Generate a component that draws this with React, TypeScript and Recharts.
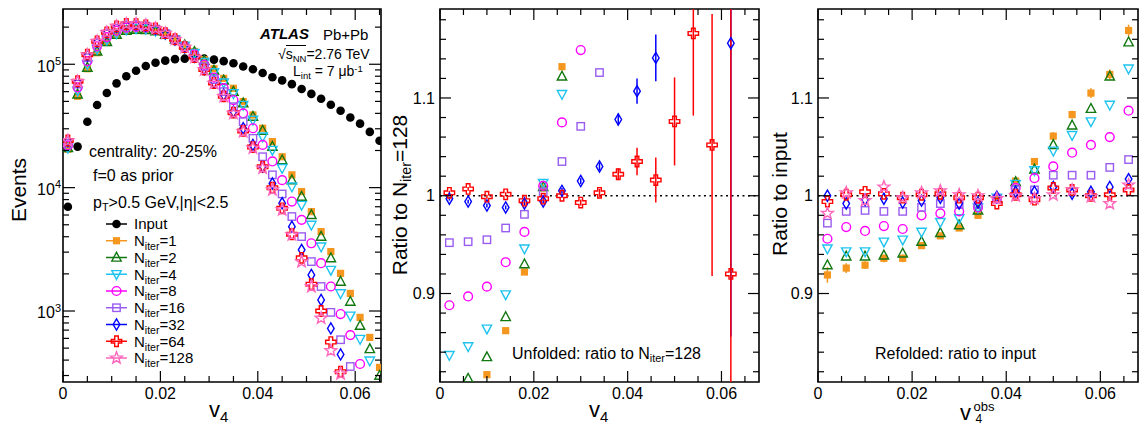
import React from 'react';
import { ScatterChart, Scatter, XAxis, YAxis, ReferenceLine, ReferenceArea, ErrorBar, Legend } from 'recharts';

const FONT = '"Liberation Sans", Arial, Helvetica, sans-serif';

// v4 bin centres, left panel (bin width 0.002)
const leftV = [
  0.001, 0.003, 0.005, 0.007, 0.009, 0.011, 0.013, 0.015, 0.017, 0.019, 0.021,
  0.023, 0.025, 0.027, 0.029, 0.031, 0.033, 0.035, 0.037, 0.039, 0.041, 0.043,
  0.045, 0.047, 0.049, 0.051, 0.053, 0.055, 0.057, 0.059, 0.061, 0.063, 0.065,
];
// v4 bin centres, ratio panels (bin width 0.004)
const ratioV = [
  0.002, 0.006, 0.01, 0.014, 0.018, 0.022, 0.026, 0.03, 0.034, 0.038, 0.042,
  0.046, 0.05, 0.054, 0.058, 0.062, 0.066,
];

// left panel: events
const inputCounts = [
  7000, 21500, 34200, 46800, 58500, 70000, 80000, 88600, 96800, 103000, 107000,
  110000, 111000, 112000, 111000, 109000, 106000, 102000, 96000, 91000, 85000, 78500,
  74000, 69000, 63000, 57500, 52500, 47000, 42000, 37000, 33000, 28300, 24000,
];
const unfN1 = [
  20500, 55000, 92000, 124000, 150000, 172000, 186000, 190000, 190000, 185000, 175000,
  160000, 144000, 127000, 109000, 92000, 76900, 63900, 49800, 38800, 30300, 23600,
  17800, 12700, 9290, 6390, 4400, 3030, 2020, 1390, 888, 611, 349,
];
const unfN2 = [
  21000, 57000, 94000, 127000, 152000, 174000, 187000, 191000, 190000, 185000, 174000,
  159000, 143000, 126000, 107000, 89000, 74000, 60000, 48300, 37600, 29000, 21500,
  16700, 11500, 8460, 6010, 4010, 2680, 1730, 1190, 760, 492, 299,
];
const unfN4 = [
  21000, 61000, 100000, 133000, 158000, 178000, 191000, 195000, 194000, 187000, 176000,
  159000, 141000, 123000, 104000, 86000, 71000, 58200, 46800, 35400, 25900, 20200,
  14400, 10200, 7240, 4990, 3330, 2150, 1390, 916, 593, 396, null,
];
const unfN8 = [
  22000, 65000, 106000, 140000, 166000, 187000, 198000, 201000, 199000, 190000, 176000,
  158000, 139000, 120000, 99000, 78000, 64000, 51300, 40000, 30300, 22200, 16300,
  11500, 7710, 5480, 3540, 2440, 1580, 945, 638, 372, null, null,
];
const unfN16 = [
  23000, 69000, 113000, 148000, 176000, 196000, 206000, 207000, 204000, 193000, 178000,
  159000, 138000, 117000, 95000, 75000, 60000, 45300, 34300, 25100, 17800, 12700,
  8890, 5830, 4010, 2515, 1580, 975, 585, 355, null, null, null,
];
const unfN32 = [
  23900, 72000, 118000, 152000, 180000, 201000, 211000, 211000, 206000, 194000, 178000,
  159000, 137000, 115000, 91000, 71500, 56500, 41300, 30300, 22200, 14800, 10800,
  7470, 4830, 3130, 1960, 1230, 723, 445, null, null, null, null,
];
const unfN64 = [
  24100, 72800, 119500, 153500, 181500, 203000, 212000, 211500, 207000, 195500, 178500,
  159500, 137500, 114500, 90500, 70500, 55000, 40500, 28800, 21300, 14800, 10000,
  6800, 4190, 2700, 1650, 1000, 560, 322, null, null, null, null,
];
const unfN128 = [
  24000, 72500, 119000, 153000, 181000, 203000, 212000, 212000, 207000, 195000, 178000,
  159000, 137000, 114000, 90000, 70000, 54700, 40000, 28400, 20900, 14400, 9600,
  6600, 4140, 2510, 1580, 875, 477, 310, null, null, null, null,
];

// middle panel: unfolded ratio to N_iter=128
const midN1 = [null, null, 0.817, 0.862, 0.922, 1.008, 1.132, null, null, null, null, null, null, null, null, null];
const midN2 = [null, 0.813, 0.835, 0.876, 0.93, 1.009, 1.122, null, null, null, null, null, null, null, null, null];
const midN4 = [0.837, 0.846, 0.864, 0.899, 0.946, 1.013, 1.104, null, null, null, null, null, null, null, null, null];
const midN8 = [0.888, 0.897, 0.907, 0.932, 0.963, 1.01, 1.075, 1.149, null, null, null, null, null, null, null, null];
const midN16 = [0.952, 0.953, 0.955, 0.967, 0.981, 1.004, 1.035, 1.071, 1.126, null, null, null, null, null, null, null];
const midN32 = [0.997, 0.994, 0.99, 0.988, 0.992, 0.994, 1.005, 1.015, 1.03, 1.078, 1.107, 1.141, null, null, null, 1.156];
const midN32Err = [0.002, 0.002, 0.002, 0.002, 0.002, 0.002, 0.003, 0.003, 0.004, 0.006, 0.013, 0.024, 0, 0, 0, 0.3];
const midN64 = [1.003, 1.007, 0.999, 1.0015, 0.995, 0.997, 1.0, 0.993, 1.003, 1.022, 1.035, 1.016, 1.076, 1.166, 1.052, 0.92];
const midN64Err = [0.002, 0.002, 0.002, 0.002, 0.002, 0.002, 0.002, 0.003, 0.004, 0.006, 0.014, 0.023, 0.045, 0.084, 0.134, 0.4];

// right panel: refolded ratio to input
const refN1 = [0.919, 0.926, 0.929, 0.936, 0.936, 0.949, 0.959, 0.967, 0.98, 0.996, 1.015, 1.035, 1.061, 1.083, 1.105, 1.124, 1.169];
const refN1Err = [0.008, 0.005, 0.004, 0.004, 0.004, 0.003, 0.003, 0.003, 0.003, 0.003, 0.003, 0.003, 0.004, 0.004, 0.005, 0.005, 0.006];
const refN2 = [0.929, 0.938, 0.938, 0.939, 0.941, 0.953, 0.962, 0.97, 0.985, 0.997, 1.014, 1.027, 1.052, 1.072, 1.089, 1.122, 1.157];
const refN4 = [0.946, 0.943, 0.943, 0.953, 0.955, 0.963, 0.973, 0.977, 0.988, 0.998, 1.012, 1.026, 1.046, 1.062, 1.076, 1.093, 1.13];
const refN8 = [0.956, 0.968, 0.964, 0.969, 0.966, 0.98, 0.982, 0.984, 0.988, 0.997, 1.008, 1.018, 1.03, 1.044, 1.052, 1.06, 1.087];
const refN16 = [0.972, 0.984, 0.985, 0.984, 0.984, 0.988, 0.992, 0.991, 0.991, 0.997, 1.006, 1.006, 1.021, 1.021, 1.021, 1.029, 1.037];
const refN32 = [1.0, 0.992, 0.996, 0.997, 0.993, 0.995, 0.998, 0.992, 0.993, 0.999, 1.004, 1.004, 1.009, 1.002, 1.004, 1.009, 1.017];
const refN64 = [0.994, 1.001, 1.004, 1.002, 0.998, 1.001, 1.002, 0.998, 0.998, 0.992, 1.001, 0.996, 1.008, 1.006, 1.0, 1.001, 1.006];
const refN128 = [0.982, 1.003, 0.995, 1.009, 0.998, 1.003, 1.005, 1.001, 1.0, 0.997, 1.0, 0.997, 1.001, 1.006, 0.999, 0.992, 1.011];

// ticks
const xTicks = [0, 0.005, 0.01, 0.015, 0.02, 0.025, 0.03, 0.035, 0.04, 0.045, 0.05, 0.055, 0.06, 0.065];
const ratioTicks = [
  0.82, 0.84, 0.86, 0.88, 0.9, 0.92, 0.94, 0.96, 0.98, 1.0, 1.02, 1.04, 1.06, 1.08, 1.1,
  1.12, 1.14, 1.16, 1.18,
];
const logTicks = [
  300, 400, 500, 600, 700, 800, 900, 1000, 2000, 3000, 4000, 5000, 6000, 7000, 8000, 9000,
  10000, 20000, 30000, 40000, 50000, 60000, 70000, 80000, 90000, 100000, 200000,
];

const LEFT_X = [0, 0.0653];
const LEFT_Y = [265.8, 280500];
const RATIO_X = [0, 0.068];
const RATIO_Y = [0.8095, 1.191];

type Kind = 'dot' | 'fsquare' | 'otri' | 'otridown' | 'ocircle' | 'osquare' | 'odiamond' | 'ocross' | 'ostar';

const SERIES: { n: string; color: string; kind: Kind; left: (number | null)[]; mid: (number | null)[]; ref: (number | null)[] }[] = [
  { n: '1', color: '#f5961f', kind: 'fsquare', left: unfN1, mid: midN1, ref: refN1 },
  { n: '2', color: '#117711', kind: 'otri', left: unfN2, mid: midN2, ref: refN2 },
  { n: '4', color: '#1ec3f0', kind: 'otridown', left: unfN4, mid: midN4, ref: refN4 },
  { n: '8', color: '#ff00ff', kind: 'ocircle', left: unfN8, mid: midN8, ref: refN8 },
  { n: '16', color: '#9a5cf0', kind: 'osquare', left: unfN16, mid: midN16, ref: refN16 },
  { n: '32', color: '#0000ff', kind: 'odiamond', left: unfN32, mid: midN32, ref: refN32 },
  { n: '64', color: '#ff0000', kind: 'ocross', left: unfN64, mid: midN64, ref: refN64 },
  { n: '128', color: '#ff66bb', kind: 'ostar', left: unfN128, mid: [], ref: refN128 },
];

const pts = (xs: number[], ys: (number | null)[]) =>
  ys.map((y, i) => ({ x: xs[i], y })).filter((p) => p.y != null);

// error bars cut at the frame, like the ROOT canvas does
const ptsErr = (xs: number[], ys: (number | null)[], es: number[]) =>
  ys
    .map((y, i) => ({
      x: xs[i],
      y,
      e: y == null ? [0, 0] : [Math.min(es[i], y - RATIO_Y[0]), Math.min(es[i], RATIO_Y[1] - y)],
    }))
    .filter((p) => p.y != null);

function starPoints(cx: number, cy: number, R: number, r: number) {
  const out: string[] = [];
  for (let i = 0; i < 10; i++) {
    const a = -Math.PI / 2 + (i * Math.PI) / 5;
    const rad = i % 2 === 0 ? R : r;
    out.push(`${cx + rad * Math.cos(a)},${cy + rad * Math.sin(a)}`);
  }
  return out.join(' ');
}

const Marker = ({ kind, cx, cy, color }: { kind: Kind; cx: number; cy: number; color: string }) => {
  const sw = 1.4;
  switch (kind) {
    case 'dot':
      return <circle cx={cx} cy={cy} r={4.3} fill={color} />;
    case 'fsquare':
      return <rect x={cx - 3.6} y={cy - 3.6} width={7.2} height={7.2} fill={color} />;
    case 'otri':
      return <polygon points={`${cx},${cy - 5.2} ${cx - 4.7},${cy + 3.6} ${cx + 4.7},${cy + 3.6}`} fill="none" stroke={color} strokeWidth={sw} />;
    case 'otridown':
      return <polygon points={`${cx},${cy + 5.2} ${cx - 4.7},${cy - 3.6} ${cx + 4.7},${cy - 3.6}`} fill="none" stroke={color} strokeWidth={sw} />;
    case 'ocircle':
      return <circle cx={cx} cy={cy} r={4.4} fill="none" stroke={color} strokeWidth={sw} />;
    case 'osquare':
      return <rect x={cx - 3.7} y={cy - 3.7} width={7.4} height={7.4} fill="none" stroke={color} strokeWidth={sw} />;
    case 'odiamond':
      return <polygon points={`${cx},${cy - 5.6} ${cx + 3.3},${cy} ${cx},${cy + 5.6} ${cx - 3.3},${cy}`} fill="none" stroke={color} strokeWidth={sw} />;
    case 'ocross': {
      const a = 5.2;
      const t = 1.8;
      const d = `M${cx - t},${cy - a} H${cx + t} V${cy - t} H${cx + a} V${cy + t} H${cx + t} V${cy + a} H${cx - t} V${cy + t} H${cx - a} V${cy - t} H${cx - t} Z`;
      return <path d={d} fill="none" stroke={color} strokeWidth={sw} />;
    }
    case 'ostar':
      return <polygon points={starPoints(cx, cy, 6.2, 2.6)} fill="none" stroke={color} strokeWidth={sw} />;
  }
  return null;
};

const shapeOf = (kind: Kind, color: string) => (p: any) => <Marker kind={kind} cx={p.cx} cy={p.cy} color={color} />;

const isMajorX = (v: number) => Math.abs(v / 0.02 - Math.round(v / 0.02)) < 1e-6;

const XTick = (props: any) => {
  const { x, y, payload, top } = props;
  const v = payload.value as number;
  const major = isMajorX(v);
  const len = major ? 11 : 6;
  return (
    <g>
      <line x1={x} x2={x} y1={y} y2={y - len} stroke="#000" strokeWidth={1.2} />
      <line x1={x} x2={x} y1={top} y2={top + len} stroke="#000" strokeWidth={1.2} />
      {major && (
        <text x={x} y={y + 16.5} textAnchor="middle" fontSize={16} fontFamily={FONT} fill="#000">
          {v === 0 ? '0' : v.toFixed(2)}
        </text>
      )}
    </g>
  );
};

const RatioTick = (props: any) => {
  const { x, y, payload, right } = props;
  const v = payload.value as number;
  const major = Math.abs(v * 10 - Math.round(v * 10)) < 1e-6;
  const len = major ? 11 : 6;
  return (
    <g>
      <line x1={x} x2={x + len} y1={y} y2={y} stroke="#000" strokeWidth={1.2} />
      <line x1={right} x2={right - len} y1={y} y2={y} stroke="#000" strokeWidth={1.2} />
      {major && (
        <text x={x - 5} y={y + 5.7} textAnchor="end" fontSize={16} fontFamily={FONT} fill="#000">
          {Math.abs(v - 1) < 1e-6 ? '1' : v.toFixed(1)}
        </text>
      )}
    </g>
  );
};

const LogTick = (props: any) => {
  const { x, y, payload, right } = props;
  const v = payload.value as number;
  const e = Math.log10(v);
  const major = Math.abs(e - Math.round(e)) < 1e-6;
  const len = major ? 12 : 6;
  return (
    <g>
      <line x1={x} x2={x + len} y1={y} y2={y} stroke="#000" strokeWidth={1.2} />
      <line x1={right} x2={right - len} y1={y} y2={y} stroke="#000" strokeWidth={1.2} />
      {major && (
        <text x={x - 2} y={y + 7.4} textAnchor="end" fontSize={16} fontFamily={FONT} fill="#000">
          10
          <tspan dy={-6.8} fontSize={11}>
            {Math.round(e)}
          </tspan>
        </text>
      )}
    </g>
  );
};

const LegendBox = () => {
  const rows = [{ n: '', color: '#000', kind: 'dot' as Kind }, ...SERIES];
  return (
    <svg width={130} height={160} style={{ display: 'block' }}>
      {rows.map((r, i) => {
        const y = 10 + i * 16.75;
        return (
          <g key={i}>
            <line x1={6} x2={27} y1={y} y2={y} stroke={r.color} strokeWidth={1.5} />
            <Marker kind={r.kind} cx={16.5} cy={y} color={r.color} />
            <text x={34} y={y + 5.4} fontSize={15} fontFamily={FONT} fill="#000">
              {r.n === '' ? (
                'Input'
              ) : (
                <>
                  N
                  <tspan fontSize={10.5} dy={4}>
                    iter
                  </tspan>
                  <tspan dy={-4}>={r.n}</tspan>
                </>
              )}
            </text>
          </g>
        );
      })}
    </svg>
  );
};

const Txt = ({ x, y, size = 16, children, style }: any) => (
  <div
    style={{
      position: 'absolute',
      left: x,
      top: y - 0.49 * size,
      fontSize: size,
      lineHeight: 1,
      whiteSpace: 'nowrap',
      fontFamily: FONT,
      color: '#000',
      ...style,
    }}
  >
    {children}
  </div>
);

const VTxt = ({ cx, cy, size = 21, children }: any) => (
  <div
    style={{
      position: 'absolute',
      left: cx,
      top: cy,
      transform: 'translate(-50%, -50%) rotate(-90deg)',
      fontSize: size,
      lineHeight: 1,
      whiteSpace: 'nowrap',
      fontFamily: FONT,
      color: '#000',
    }}
  >
    {children}
  </div>
);

const Sub = ({ children }: any) => <span style={{ fontSize: '0.68em', position: 'relative', top: '0.3em' }}>{children}</span>;
const Sup = ({ children }: any) => <span style={{ fontSize: '0.68em', position: 'relative', top: '-0.45em' }}>{children}</span>;

const H = 425;
const TOP = 9;
const XH = 43;

const App: React.FC = () => {
  return (
    <div style={{ position: 'absolute', left: 0, top: 0, width: 1141, height: H, background: '#fff', fontFamily: FONT, overflow: 'hidden' }}>
      {/* left: v4 distributions */}
      <div style={{ position: 'absolute', left: 0, top: 0 }}>
        <ScatterChart width={384} height={H} margin={{ top: TOP, right: 3, bottom: 0, left: 0 }}>
          <XAxis type="number" dataKey="x" domain={LEFT_X} ticks={xTicks} interval={0} allowDataOverflow height={XH}
            tickSize={0} tickMargin={0} axisLine={false} tickLine={false} tick={(p: any) => <XTick {...p} top={TOP} />} />
          <YAxis type="number" dataKey="y" scale="log" domain={LEFT_Y} ticks={logTicks} interval={0} allowDataOverflow width={63}
            tickSize={0} tickMargin={0} axisLine={false} tickLine={false} tick={(p: any) => <LogTick {...p} right={381} />} />
          <ReferenceArea x1={LEFT_X[0]} x2={LEFT_X[1]} y1={LEFT_Y[0]} y2={LEFT_Y[1]} fill="none" stroke="#000" strokeWidth={1.6} ifOverflow="visible" />
          <Scatter name="Input" data={pts(leftV, inputCounts)} shape={shapeOf('dot', '#000')} isAnimationActive={false} />
          {SERIES.map((s) => (
            <Scatter key={s.n} name={`N${s.n}`} data={pts(leftV, s.left)} shape={shapeOf(s.kind, s.color)} isAnimationActive={false} />
          ))}
          <Legend layout="vertical" align="center" verticalAlign="middle" wrapperStyle={{ left: 100, top: 214, width: 130, height: 160 }} content={() => <LegendBox />} />
        </ScatterChart>
      </div>

      {/* middle: unfolded ratio */}
      <div style={{ position: 'absolute', left: 384, top: 0 }}>
        <ScatterChart width={378} height={H} margin={{ top: TOP, right: 3, bottom: 0, left: 0 }}>
          <XAxis type="number" dataKey="x" domain={RATIO_X} ticks={xTicks} interval={0} allowDataOverflow height={XH}
            tickSize={0} tickMargin={0} axisLine={false} tickLine={false} tick={(p: any) => <XTick {...p} top={TOP} />} />
          <YAxis type="number" dataKey="y" domain={RATIO_Y} ticks={ratioTicks} interval={0} allowDataOverflow width={56}
            tickSize={0} tickMargin={0} axisLine={false} tickLine={false} tick={(p: any) => <RatioTick {...p} right={375} />} />
          <ReferenceArea x1={RATIO_X[0]} x2={RATIO_X[1]} y1={RATIO_Y[0]} y2={RATIO_Y[1]} fill="none" stroke="#000" strokeWidth={1.6} ifOverflow="visible" />
          <ReferenceLine y={1} stroke="#000" strokeWidth={1.4} strokeDasharray="2 3.5" />
          {SERIES.filter((s) => s.mid.length > 0).map((s) => {
            const err = s.n === '32' ? midN32Err : s.n === '64' ? midN64Err : undefined;
            return (
              <Scatter key={s.n} name={`N${s.n}`} data={err ? ptsErr(ratioV, s.mid, err) : pts(ratioV, s.mid)} shape={shapeOf(s.kind, s.color)} isAnimationActive={false}>
                {err && <ErrorBar dataKey="e" direction="y" width={0} stroke={s.color} strokeWidth={1.5} isAnimationActive={false} />}
              </Scatter>
            );
          })}
        </ScatterChart>
      </div>

      {/* right: refolded ratio */}
      <div style={{ position: 'absolute', left: 762, top: 0 }}>
        <ScatterChart width={379} height={H} margin={{ top: TOP, right: 3, bottom: 0, left: 0 }}>
          <XAxis type="number" dataKey="x" domain={RATIO_X} ticks={xTicks} interval={0} allowDataOverflow height={XH}
            tickSize={0} tickMargin={0} axisLine={false} tickLine={false} tick={(p: any) => <XTick {...p} top={TOP} />} />
          <YAxis type="number" dataKey="y" domain={RATIO_Y} ticks={ratioTicks} interval={0} allowDataOverflow width={56}
            tickSize={0} tickMargin={0} axisLine={false} tickLine={false} tick={(p: any) => <RatioTick {...p} right={376} />} />
          <ReferenceArea x1={RATIO_X[0]} x2={RATIO_X[1]} y1={RATIO_Y[0]} y2={RATIO_Y[1]} fill="none" stroke="#000" strokeWidth={1.6} ifOverflow="visible" />
          <ReferenceLine y={1} stroke="#000" strokeWidth={1.4} strokeDasharray="2 3.5" />
          {SERIES.map((s) => {
            const err = s.n === '1' ? refN1Err : undefined;
            return (
              <Scatter key={s.n} name={`N${s.n}`} data={err ? ptsErr(ratioV, s.ref, err) : pts(ratioV, s.ref)} shape={shapeOf(s.kind, s.color)} isAnimationActive={false}>
                {err && <ErrorBar dataKey="e" direction="y" width={0} stroke={s.color} strokeWidth={1.5} isAnimationActive={false} />}
              </Scatter>
            );
          })}
        </ScatterChart>
      </div>

      {/* text overlays */}
      <div style={{ position: 'absolute', left: 0, top: 0, width: 1141, height: H, pointerEvents: 'none' }}>
        <VTxt cx={17.5} cy={190} size={21}>Events</VTxt>
        <VTxt cx={399} cy={195} size={21}>
          Ratio to N<Sub>iter</Sub>=128
        </VTxt>
        <VTxt cx={779} cy={194} size={21}>Ratio to input</VTxt>

        <Txt x={209} y={410} size={22}>
          v<Sub>4</Sub>
        </Txt>
        <Txt x={589} y={410} size={22}>
          v<Sub>4</Sub>
        </Txt>
        <Txt x={960} y={412.5} size={22}>v</Txt>
        <Txt x={973.5} y={406.3} size={13}>obs</Txt>
        <Txt x={975.5} y={418.8} size={12}>4</Txt>

        <Txt x={260} y={33.5} size={15} style={{ fontWeight: 'bold', fontStyle: 'italic' }}>ATLAS</Txt>
        <Txt x={323} y={34} size={15}>Pb+Pb</Txt>
        <Txt x={278} y={54} size={14}>
          √<span style={{ borderTop: '1.2px solid #000' }}>s<Sub>NN</Sub></span>=2.76 TeV
        </Txt>
        <Txt x={293} y={71} size={14}>
          L<Sub>int</Sub> = 7 μb<Sup>-1</Sup>
        </Txt>

        <Txt x={89} y={152} size={16}>centrality: 20-25%</Txt>
        <Txt x={93} y={176} size={16}>f=0 as prior</Txt>
        <Txt x={93} y={203} size={16}>
          p<Sub>T</Sub>&gt;0.5 GeV,|η|&lt;2.5
        </Txt>

        <Txt x={512} y={354} size={16}>
          Unfolded: ratio to N<Sub>iter</Sub>=128
        </Txt>
        <Txt x={875} y={354} size={16}>Refolded: ratio to input</Txt>
      </div>
    </div>
  );
};

export default App;
